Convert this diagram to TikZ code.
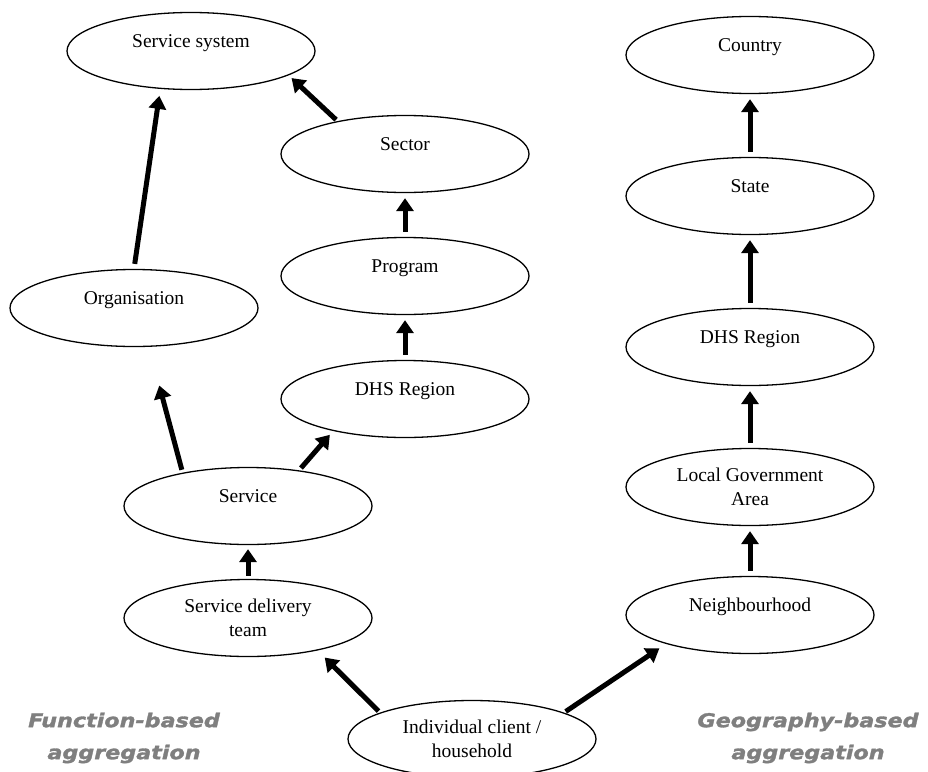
\documentclass[tikz,border=0pt]{standalone}
\usepackage{fontspec}
\setmainfont{Liberation Serif}
\newfontfamily\labelfont[FakeStretch=1.17,FakeBold=1.6]{DejaVu Sans Bold Oblique}
\usetikzlibrary{shapes.geometric,arrows.meta}
\definecolor{lblgray}{HTML}{7F7F7F}
\begin{document}
\begin{tikzpicture}[x=1pt,y=-1pt,
  ell/.style={ellipse,draw,line width=1.3pt,minimum width=248pt,minimum height=77pt,
    inner sep=0pt,font=\fontsize{19.5}{24}\selectfont,align=center},
  one/.style={text height=13pt,text depth=21pt},
  arr/.style={-{Triangle[width=17pt,length=13pt]},line width=5pt},
  grp/.style={font=\labelfont\fontsize{19}{32}\selectfont,text=lblgray,align=center}]
\useasboundingbox (0,0) rectangle (928,771);

% left / middle column
\node[ell,one] (sys)     at (191,51)  {Service system};
\node[ell,one] (sector)  at (405,154) {Sector};
\node[ell,one] (program) at (405,276) {Program};
\node[ell,one] (dhsL)    at (405,399) {DHS Region};
\node[ell,one] (org)     at (134,308) {Organisation};
\node[ell,one] (service) at (248,506) {Service};
\node[ell]     (sdt)     at (248,618) {Service delivery\\team};
\node[ell]     (indiv)   at (472,739) {Individual client /\\household};

% right column
\node[ell,one] (country) at (750,55)  {Country};
\node[ell,one] (state)   at (750,196) {State};
\node[ell,one] (dhsR)    at (750,347) {DHS Region};
\node[ell]     (lga)     at (750,487) {Local Government\\Area};
\node[ell,one] (neigh)   at (750,615) {Neighbourhood};

% side labels
\node[grp] (fn)  at (124,738) {Function-based\\aggregation};
\node[grp] (geo) at (808,738) {Geography-based\\aggregation};

% arrows
\draw[arr,shorten <=5pt,shorten >=7pt] (org.north) -- (sys.231);
\draw[arr,shorten <=2pt,shorten >=4pt] (sector.154) -- (sys.346);
\draw[arr,shorten <=5pt,shorten >=5pt] (program.north) -- (sector.south);
\draw[arr,shorten <=5pt,shorten >=5pt] (dhsL.north) -- (program.south);
\draw[arr,shorten <=3pt,shorten >=40pt] (service.153) -- (org.291);
\draw[arr,shorten <=3pt,shorten >=5pt] (service.35) -- (dhsL.204);
\draw[arr,shorten <=3pt,shorten >=4pt] (sdt.north) -- (service.south);
\draw[arr,shorten <=2pt,shorten >=10pt] (indiv.164) -- (sdt.335);
\draw[arr,shorten <=2pt,shorten >=8pt] (indiv.16) -- (neigh.199);
\draw[arr,shorten <=5pt,shorten >=5pt] (neigh.north) -- (lga.south);
\draw[arr,shorten <=5pt,shorten >=5pt] (lga.north) -- (dhsR.south);
\draw[arr,shorten <=5pt,shorten >=5pt] (dhsR.north) -- (state.south);
\draw[arr,shorten <=5pt,shorten >=5pt] (state.north) -- (country.south);
\end{tikzpicture}
\end{document}
